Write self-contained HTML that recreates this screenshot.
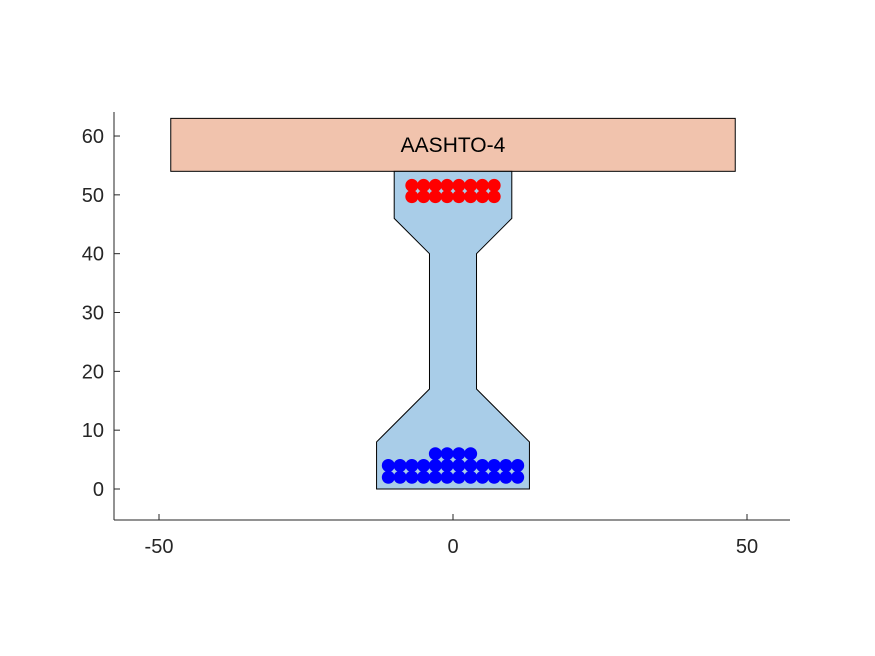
<!DOCTYPE html>
<html><head><meta charset="utf-8"><style>
body{margin:0;background:#fff}
svg{display:block;font-family:"Liberation Sans",sans-serif}
</style></head><body>
<svg id="chart" width="875" height="656">
<rect width="875" height="656" fill="#fff"/>
<g id="plot"></g>
<g id="axes"></g>
</svg>
<script>
const xTicks=[-50,0,50];
const yTicks=[0,10,20,30,40,50,60];
const slabX=[-48,48], slabY=[54,63];
const girderX=[-13,13,13,4,4,10,10,-10,-10,-4,-4,-13];
const girderY=[0,0,8,17,40,46,54,54,46,40,17,8];
const bottomStrandX=[-11,-9,-7,-5,-3,-1,1,3,5,7,9,11,-11,-9,-7,-5,-3,-1,1,3,5,7,9,11,-3,-1,1,3];
const bottomStrandY=[2,2,2,2,2,2,2,2,2,2,2,2,4,4,4,4,4,4,4,4,4,4,4,4,6,6,6,6];
const topStrandX=[-7,-5,-3,-1,1,3,5,7,-7,-5,-3,-1,1,3,5,7];
const topStrandY=[49.7,49.7,49.7,49.7,49.7,49.7,49.7,49.7,51.6,51.6,51.6,51.6,51.6,51.6,51.6,51.6];
const label="AASHTO-4";
const NS="http://www.w3.org/2000/svg";
const sx=v=>453+v*5.88, sy=v=>489-v*5.883;
function mk(tag,attrs,parent){const e=document.createElementNS(NS,tag);for(const k in attrs)e.setAttribute(k,attrs[k]);parent.appendChild(e);return e;}
const plot=document.getElementById('plot'), axes=document.getElementById('axes');
let s=mk('rect',{x:sx(slabX[0]),y:sy(slabY[1]),width:sx(slabX[1])-sx(slabX[0]),height:sy(slabY[0])-sy(slabY[1]),fill:'#f1c3ad',stroke:'#000','stroke-width':1},plot);


let g=mk('polygon',{points:girderX.map((x,i)=>sx(x)+','+sy(girderY[i])).join(' '),fill:'#a9cde8',stroke:'#000','stroke-width':1},plot);


let t=mk('text',{x:sx(0),y:sy((slabY[0]+slabY[1])/2)+7,'text-anchor':'middle','font-size':21,fill:'#000'},plot);
t.textContent=label;


bottomStrandX.forEach((x,i)=>{const c=mk('circle',{cx:sx(x),cy:sy(bottomStrandY[i]),r:6.5,fill:'#0000ff'},plot);

});
topStrandX.forEach((x,i)=>{const c=mk('circle',{cx:sx(x),cy:sy(topStrandY[i]),r:6.5,fill:'#ff0000'},plot);

});
let xa=mk('line',{x1:114,y1:520,x2:790,y2:520,stroke:'#262626'},axes);


let ya=mk('line',{x1:114,y1:112,x2:114,y2:520,stroke:'#262626'},axes);


xTicks.forEach(v=>{mk('line',{x1:sx(v),y1:520,x2:sx(v),y2:514,stroke:'#262626'},axes);
const l=mk('text',{x:sx(v),y:553,'text-anchor':'middle','font-size':20,fill:'#262626'},axes);l.textContent=v;

});
yTicks.forEach(v=>{mk('line',{x1:114,y1:sy(v),x2:120,y2:sy(v),stroke:'#262626'},axes);
const l=mk('text',{x:104,y:sy(v)+7,'text-anchor':'end','font-size':20,fill:'#262626'},axes);l.textContent=v;

});
</script>
</body></html>
